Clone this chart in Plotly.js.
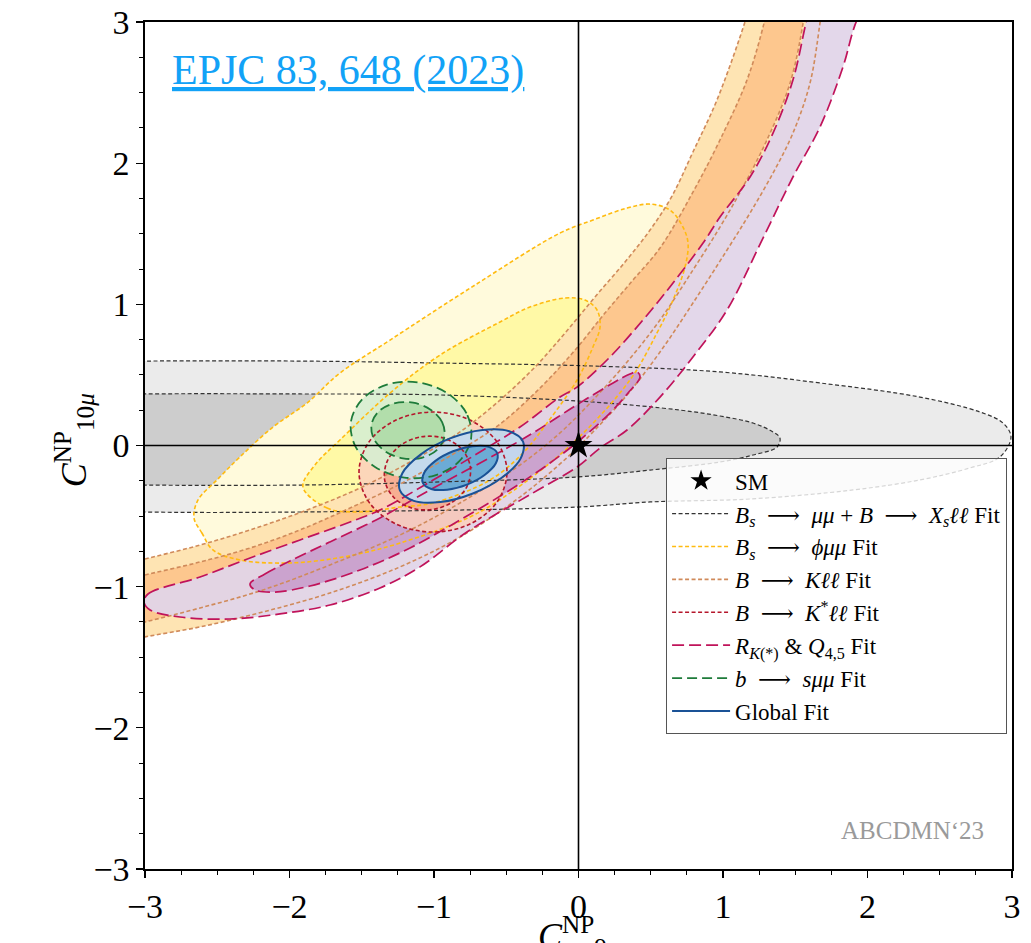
<!DOCTYPE html>
<html>
<head>
<meta charset="utf-8">
<script src="https://cdn.plot.ly/plotly-3.0.1.min.js"></script>
<style>html,body{margin:0;padding:0;background:#fff;}#chart{width:1031px;height:943px;}</style>
</head>
<body>
<div id="chart"></div>
<script>
// ---------- data (in C9 / C10 units) ----------
// Bs->mumu + B->Xs ll (gray)
const bsOuterX = [-6.0,-5.0,-4.0,-3.0,-1.927,-0.958,0.100,0.979,1.671,2.363,2.779,2.938,2.993,2.917,2.709,2.363,1.900,1.187,0.495,-0.010,-1.927,-3.0,-4.0,-5.0];
const bsOuterY = [0.06,0.45,0.58,0.598,0.598,0.584,0.563,0.521,0.443,0.343,0.237,0.159,0.060,-0.081,-0.159,-0.244,-0.315,-0.379,-0.400,-0.436,-0.471,-0.471,-0.44,-0.33];
const bsInnerX = [-5.5,-4.5,-3.7,-3.0,-1.927,-0.958,0.100,0.702,0.979,1.208,1.346,1.394,1.374,1.208,0.979,0.495,-0.010,-0.958,-1.927,-3.0,-4.0,-5.0];
const bsInnerY = [0.05,0.28,0.35,0.365,0.365,0.358,0.308,0.251,0.209,0.159,0.096,0.053,-0.011,-0.067,-0.117,-0.174,-0.223,-0.258,-0.280,-0.280,-0.26,-0.16];

// Bs->phi mumu (yellow)
const phiOuterX = [-2.661,-2.606,-2.530,-2.343,-1.997,-1.630,-1.235,-0.751,-0.474,-0.038,0.356,0.543,0.654,0.737,0.758,0.723,0.633,0.495,0.336,0.100,-0.128,-0.716,-1.304,-1.651,-1.879,-2.114,-2.343,-2.502,-2.633];
const phiOuterY = [-0.513,-0.620,-0.740,-0.811,-0.832,-0.790,-0.691,-0.506,-0.336,0.018,0.464,0.797,1.030,1.264,1.434,1.547,1.668,1.710,1.682,1.597,1.505,1.137,0.747,0.513,0.301,0.131,-0.081,-0.244,-0.386];
const phiInnerX = [-1.907,-1.740,-1.533,-1.235,-1.007,-0.612,-0.384,-0.218,-0.010,0.100,0.149,0.128,0.045,-0.093,-0.336,-0.543,-0.958,-1.304,-1.651,-1.824];
const phiInnerY = [-0.294,-0.443,-0.471,-0.436,-0.407,-0.244,-0.053,0.159,0.464,0.698,0.839,0.960,1.030,1.045,0.981,0.875,0.641,0.372,0.039,-0.138];

// B->K ll (orange band): upper-left and lower-right edges
const kllOuterUpX = [-3.3,-3.000,-2.619,-2.273,-1.879,-1.512,-1.166,-0.820,-0.543,-0.301,-0.093,0.114,0.322,0.495,0.647,0.792,0.958,1.152,1.215];
const kllOuterUpY = [-0.88,-0.804,-0.705,-0.598,-0.457,-0.301,-0.117,0.096,0.322,0.556,0.797,1.052,1.300,1.526,1.767,2.079,2.447,3.000,3.226];
const kllInnerUpX = [-3.3,-3.000,-2.619,-2.273,-1.927,-1.581,-1.235,-0.889,-0.543,-0.246,-0.024,0.183,0.377,0.564,0.792,0.979,1.166,1.284,1.332];
const kllInnerUpY = [-0.99,-0.917,-0.825,-0.726,-0.598,-0.443,-0.273,-0.074,0.152,0.428,0.676,0.938,1.172,1.399,1.795,2.164,2.589,2.992,3.226];
const kllInnerLowX = [-3.3,-3.000,-2.619,-2.183,-1.720,-1.235,-0.820,-0.405,-0.128,0.100,0.336,0.564,0.792,0.979,1.138,1.304,1.464,1.554,1.581];
const kllInnerLowY = [-1.32,-1.250,-1.151,-1.023,-0.846,-0.634,-0.407,-0.138,0.089,0.322,0.591,0.889,1.243,1.547,1.831,2.164,2.567,2.992,3.226];
const kllOuterLowX = [-3.3,-3.000,-2.619,-2.183,-1.720,-1.235,-0.820,-0.405,-0.059,0.100,0.336,0.564,0.792,1.028,1.187,1.346,1.484,1.602,1.671,1.699];
const kllOuterLowY = [-1.42,-1.356,-1.285,-1.179,-1.045,-0.860,-0.648,-0.365,-0.067,0.096,0.358,0.662,1.009,1.385,1.647,1.930,2.213,2.567,2.992,3.226];

// R_K(*) & Q4,5 (purple)
const rkOuterUpX = [-3.007,-2.979,-2.619,-2.273,-1.927,-1.581,-1.374,-1.028,-0.682,-0.405,-0.128,-0.010,0.218,0.446,0.654,0.862,0.979,1.187,1.346,1.484,1.574,1.637];
const rkOuterUpY = [-1.108,-1.052,-0.931,-0.797,-0.669,-0.542,-0.457,-0.258,-0.046,0.131,0.343,0.414,0.627,0.889,1.151,1.434,1.618,1.902,2.213,2.589,2.993,3.262];
const rkOuterLowX = [-2.965,-2.758,-2.412,-2.066,-1.720,-1.374,-1.097,-0.772,-0.315,-0.010,0.149,0.336,0.564,0.792,1.028,1.270,1.484,1.671,1.830,1.913,2.031];
const rkOuterLowY = [-1.165,-1.215,-1.229,-1.193,-1.130,-1.009,-0.860,-0.613,-0.336,-0.152,-0.018,0.110,0.343,0.627,0.960,1.455,1.902,2.256,2.681,2.978,3.262];
const rkInnerX = [-2.273,-2.170,-1.997,-1.720,-1.374,-1.028,-0.772,-0.543,-0.315,-0.024,0.239,0.356,0.405,0.426,0.343,0.218,0.010,-0.197,-0.474,-0.820,-1.166,-1.512,-1.858,-2.100,-2.239];
const rkInnerY = [-0.981,-0.910,-0.818,-0.683,-0.513,-0.315,-0.174,-0.046,0.089,0.280,0.443,0.506,0.521,0.485,0.372,0.230,0.039,-0.124,-0.315,-0.528,-0.726,-0.882,-0.995,-1.038,-1.023];

// B->K* ll (red)
const ksOuterX = [-0.495,-0.564,-0.751,-1.007,-1.263,-1.450,-1.519,-1.450,-1.263,-1.007,-0.751,-0.564];
const ksOuterY = [-0.188,0.025,0.180,0.237,0.180,0.025,-0.188,-0.401,-0.556,-0.613,-0.556,-0.401];
const ksInnerX = [-0.750,-0.812,-0.936,-1.090,-1.232,-1.324,-1.341,-1.278,-1.154,-1.000,-0.858,-0.766];
const ksInnerY = [-0.143,-0.022,0.053,0.061,0.001,-0.112,-0.247,-0.368,-0.443,-0.451,-0.391,-0.278];

// b->s mumu (green)
const bsmmOuterX = [-0.743,-0.775,-0.910,-1.112,-1.326,-1.495,-1.575,-1.543,-1.408,-1.206,-0.992,-0.823];
const bsmmOuterY = [0.052,0.228,0.372,0.447,0.431,0.329,0.168,-0.008,-0.152,-0.227,-0.211,-0.109];
const bsmmInnerX = [-0.928,-0.944,-1.024,-1.145,-1.276,-1.381,-1.432,-1.416,-1.336,-1.215,-1.084,-0.979];
const bsmmInnerY = [0.062,0.166,0.254,0.303,0.299,0.243,0.151,0.046,-0.042,-0.091,-0.087,-0.031];

// Global fit (blue)
const globOuterX = [-0.384,-0.480,-0.665,-0.889,-1.091,-1.219,-1.236,-1.140,-0.955,-0.731,-0.529,-0.401];
const globOuterY = [0.028,0.101,0.110,0.050,-0.063,-0.197,-0.318,-0.392,-0.400,-0.340,-0.227,-0.093];
const globInnerX = [-0.562,-0.621,-0.732,-0.868,-0.990,-1.067,-1.078,-1.019,-0.908,-0.772,-0.650,-0.573];
const globInnerY = [-0.055,-0.010,-0.005,-0.041,-0.109,-0.191,-0.263,-0.308,-0.313,-0.277,-0.209,-0.128];

// Standard Model point
const smX = [0];
const smY = [0];

const AR = '\u2002⟶\u2002';
const legendNames = {
  sm: 'SM',
  bs: '<i>B</i><sub><i>s</i></sub>' + AR + '<i>μμ</i> + <i>B</i>' + AR + '<i>X</i><sub><i>s</i></sub><i>ℓℓ</i> Fit',
  phi: '<i>B</i><sub><i>s</i></sub>' + AR + '<i>ϕμμ</i> Fit',
  kll: '<i>B</i>' + AR + '<i>Kℓℓ</i> Fit',
  ks: '<i>B</i>' + AR + '<i>K</i><sup>*</sup><i>ℓℓ</i> Fit',
  rk: '<i>R</i><sub><i>K</i>(*)</sub> &amp; <i>Q</i><sub>4,5</sub> Fit',
  bsmm: '<i>b</i>' + AR + '<i>sμμ</i> Fit',
  glob: 'Global Fit'
};

// ---------- helpers ----------
function band(upX, upY, lowX, lowY) {
  return { x: upX.concat(lowX.slice().reverse()), y: upY.concat(lowY.slice().reverse()) };
}
function closed(x, y) { return { x: x.concat([x[0]]), y: y.concat([y[0]]) }; }

const shapes = {
  bsO: closed(bsOuterX, bsOuterY), bsI: closed(bsInnerX, bsInnerY),
  phiO: closed(phiOuterX, phiOuterY), phiI: closed(phiInnerX, phiInnerY),
  kllO: band(kllOuterUpX, kllOuterUpY, kllOuterLowX, kllOuterLowY),
  kllI: band(kllInnerUpX, kllInnerUpY, kllInnerLowX, kllInnerLowY),
  rkO: band(rkOuterUpX, rkOuterUpY, rkOuterLowX, rkOuterLowY),
  rkI: closed(rkInnerX, rkInnerY),
  ksO: closed(ksOuterX, ksOuterY), ksI: closed(ksInnerX, ksInnerY),
  bsmmO: closed(bsmmOuterX, bsmmOuterY), bsmmI: closed(bsmmInnerX, bsmmInnerY),
  glO: closed(globOuterX, globOuterY), glI: closed(globInnerX, globInnerY)
};
['kllO','kllI','rkO'].forEach(k => { shapes[k] = closed(shapes[k].x, shapes[k].y); });

const SHORT = '4px,2.5px';
const groups = [
  {key:'bs',   o:'bsO',  i:'bsI',  fo:'#ebebeb', fi:'#cdcdcd', lc:'#333333', lw:1.2, dash:SHORT, rank:2},
  {key:'phi',  o:'phiO', i:'phiI', fo:'#fffadc', fi:'#fff9a6', lc:'#ffbb10', lw:1.6, dash:SHORT, rank:3},
  {key:'kll',  o:'kllO', i:'kllI', fo:'#fee4b3', fi:'#fdc78e', lc:'#d08a5a', lw:1.6, dash:SHORT, rank:4},
  {key:'rk',   o:'rkO',  i:'rkI',  fo:'rgba(225,213,233,0.94)', fi:'rgba(196,150,200,0.8)', lc:'#c0135a', lw:1.7, dash:'12px,5px', rank:6},
  {key:'ks',   o:'ksO',  i:'ksI',  fo:'rgba(252,208,188,0.85)', fi:'rgba(246,163,135,0.75)', lc:'#b5162b', lw:1.6, dash:SHORT, rank:5},
  {key:'bsmm', o:'bsmmO',i:'bsmmI',fo:'rgba(214,237,210,0.9)', fi:'rgba(170,219,164,0.85)', lc:'#1e7b3a', lw:1.8, dash:'10px,5px', rank:7},
  {key:'glob', o:'glO',  i:'glI',  fo:'rgba(195,217,238,0.95)', fi:'rgba(103,169,212,0.95)', lc:'#1a5296', lw:2, dash:'solid', rank:8}
];

const traces = [];
// fills
groups.forEach(g => {
  [[g.o, g.fo], [g.i, g.fi]].forEach(([k, col]) => {
    traces.push({type:'scatter', mode:'lines', x:shapes[k].x, y:shapes[k].y, fill:'toself', fillcolor:col,
      line:{width:0, shape:'spline', smoothing:1}, showlegend:false, hoverinfo:'skip'});
  });
});
// contour lines
groups.forEach(g => {
  [g.o, g.i].forEach((k, idx) => {
    traces.push({type:'scatter', mode:'lines', x:shapes[k].x, y:shapes[k].y, name:legendNames[g.key],
      line:{color:g.lc, width:g.lw, dash:g.dash, shape:'spline', smoothing:1},
      showlegend: idx === 0, legendrank: g.rank, hoverinfo:'skip'});
  });
});
// SM point
traces.push({type:'scatter', mode:'markers', x:smX, y:smY, name:legendNames.sm, legendrank:1,
  marker:{symbol:'star', size:21, color:'black', line:{width:0}}});

const SERIF = 'Liberation Serif, DejaVu Serif, serif';
const axisCommon = {
  range:[-3,3], dtick:1, tick0:0, ticks:'outside', ticklen:7, tickwidth:1.3, tickcolor:'black',
  showgrid:false, zeroline:false, showline:true, linecolor:'black', linewidth:1.6, mirror:true,
  tickfont:{family:SERIF, size:34, color:'black'},
  minor:{dtick:0.25, ticks:'outside', ticklen:4, tickwidth:1, tickcolor:'black', showgrid:false},
  fixedrange:true
};

const layout = {
  width:1031, height:943,
  margin:{l:145, r:19, t:22, b:74},
  paper_bgcolor:'white', plot_bgcolor:'white',
  showlegend:true,
  xaxis: Object.assign({}, axisCommon),
  yaxis: Object.assign({}, axisCommon),
  legend:{x:0.601, y:0.485, xanchor:'left', yanchor:'top', bgcolor:'rgba(255,255,255,0.8)',
    bordercolor:'#555', borderwidth:1, font:{family:SERIF, size:23, color:'black'},
    traceorder:'normal', itemwidth:58},
  shapes:[
    {type:'line', xref:'x', yref:'paper', x0:0, x1:0, y0:0, y1:1, line:{color:'black', width:1.6}, layer:'above'},
    {type:'line', xref:'paper', yref:'y', x0:0, x1:1, y0:0, y1:0, line:{color:'black', width:1.6}, layer:'above'}
  ],
  annotations:[
    {xref:'paper', yref:'paper', x:0.029, y:0.943, xanchor:'left', yanchor:'middle', showarrow:false,
     text:'<u>EPJC 83, 648 (2023)</u>', font:{family:SERIF, size:42, color:'#12a2f7'}},
    {xref:'paper', yref:'paper', x:0.885, y:0.046, xanchor:'center', yanchor:'middle', showarrow:false,
     text:'ABCDMN‘23', font:{family:SERIF, size:25, color:'#9a9a9a'}},
    {xref:'paper', yref:'paper', x:-0.081, y:0.506, xanchor:'center', yanchor:'middle', showarrow:false, textangle:-90,
     text:'<i>C</i><sup>NP</sup><sub>10<i>μ</i></sub>', font:{family:SERIF, size:36, color:'black'}},
    {xref:'paper', yref:'paper', x:0.5, y:-0.047, xanchor:'center', yanchor:'top', showarrow:false,
     text:'<i>C</i><sup>NP</sup><sub>9<i>μ</i></sub>', font:{family:SERIF, size:36, color:'black'}}
  ]
};

Plotly.newPlot('chart', traces, layout, {staticPlot:true, displayModeBar:false});
</script>
</body>
</html>
